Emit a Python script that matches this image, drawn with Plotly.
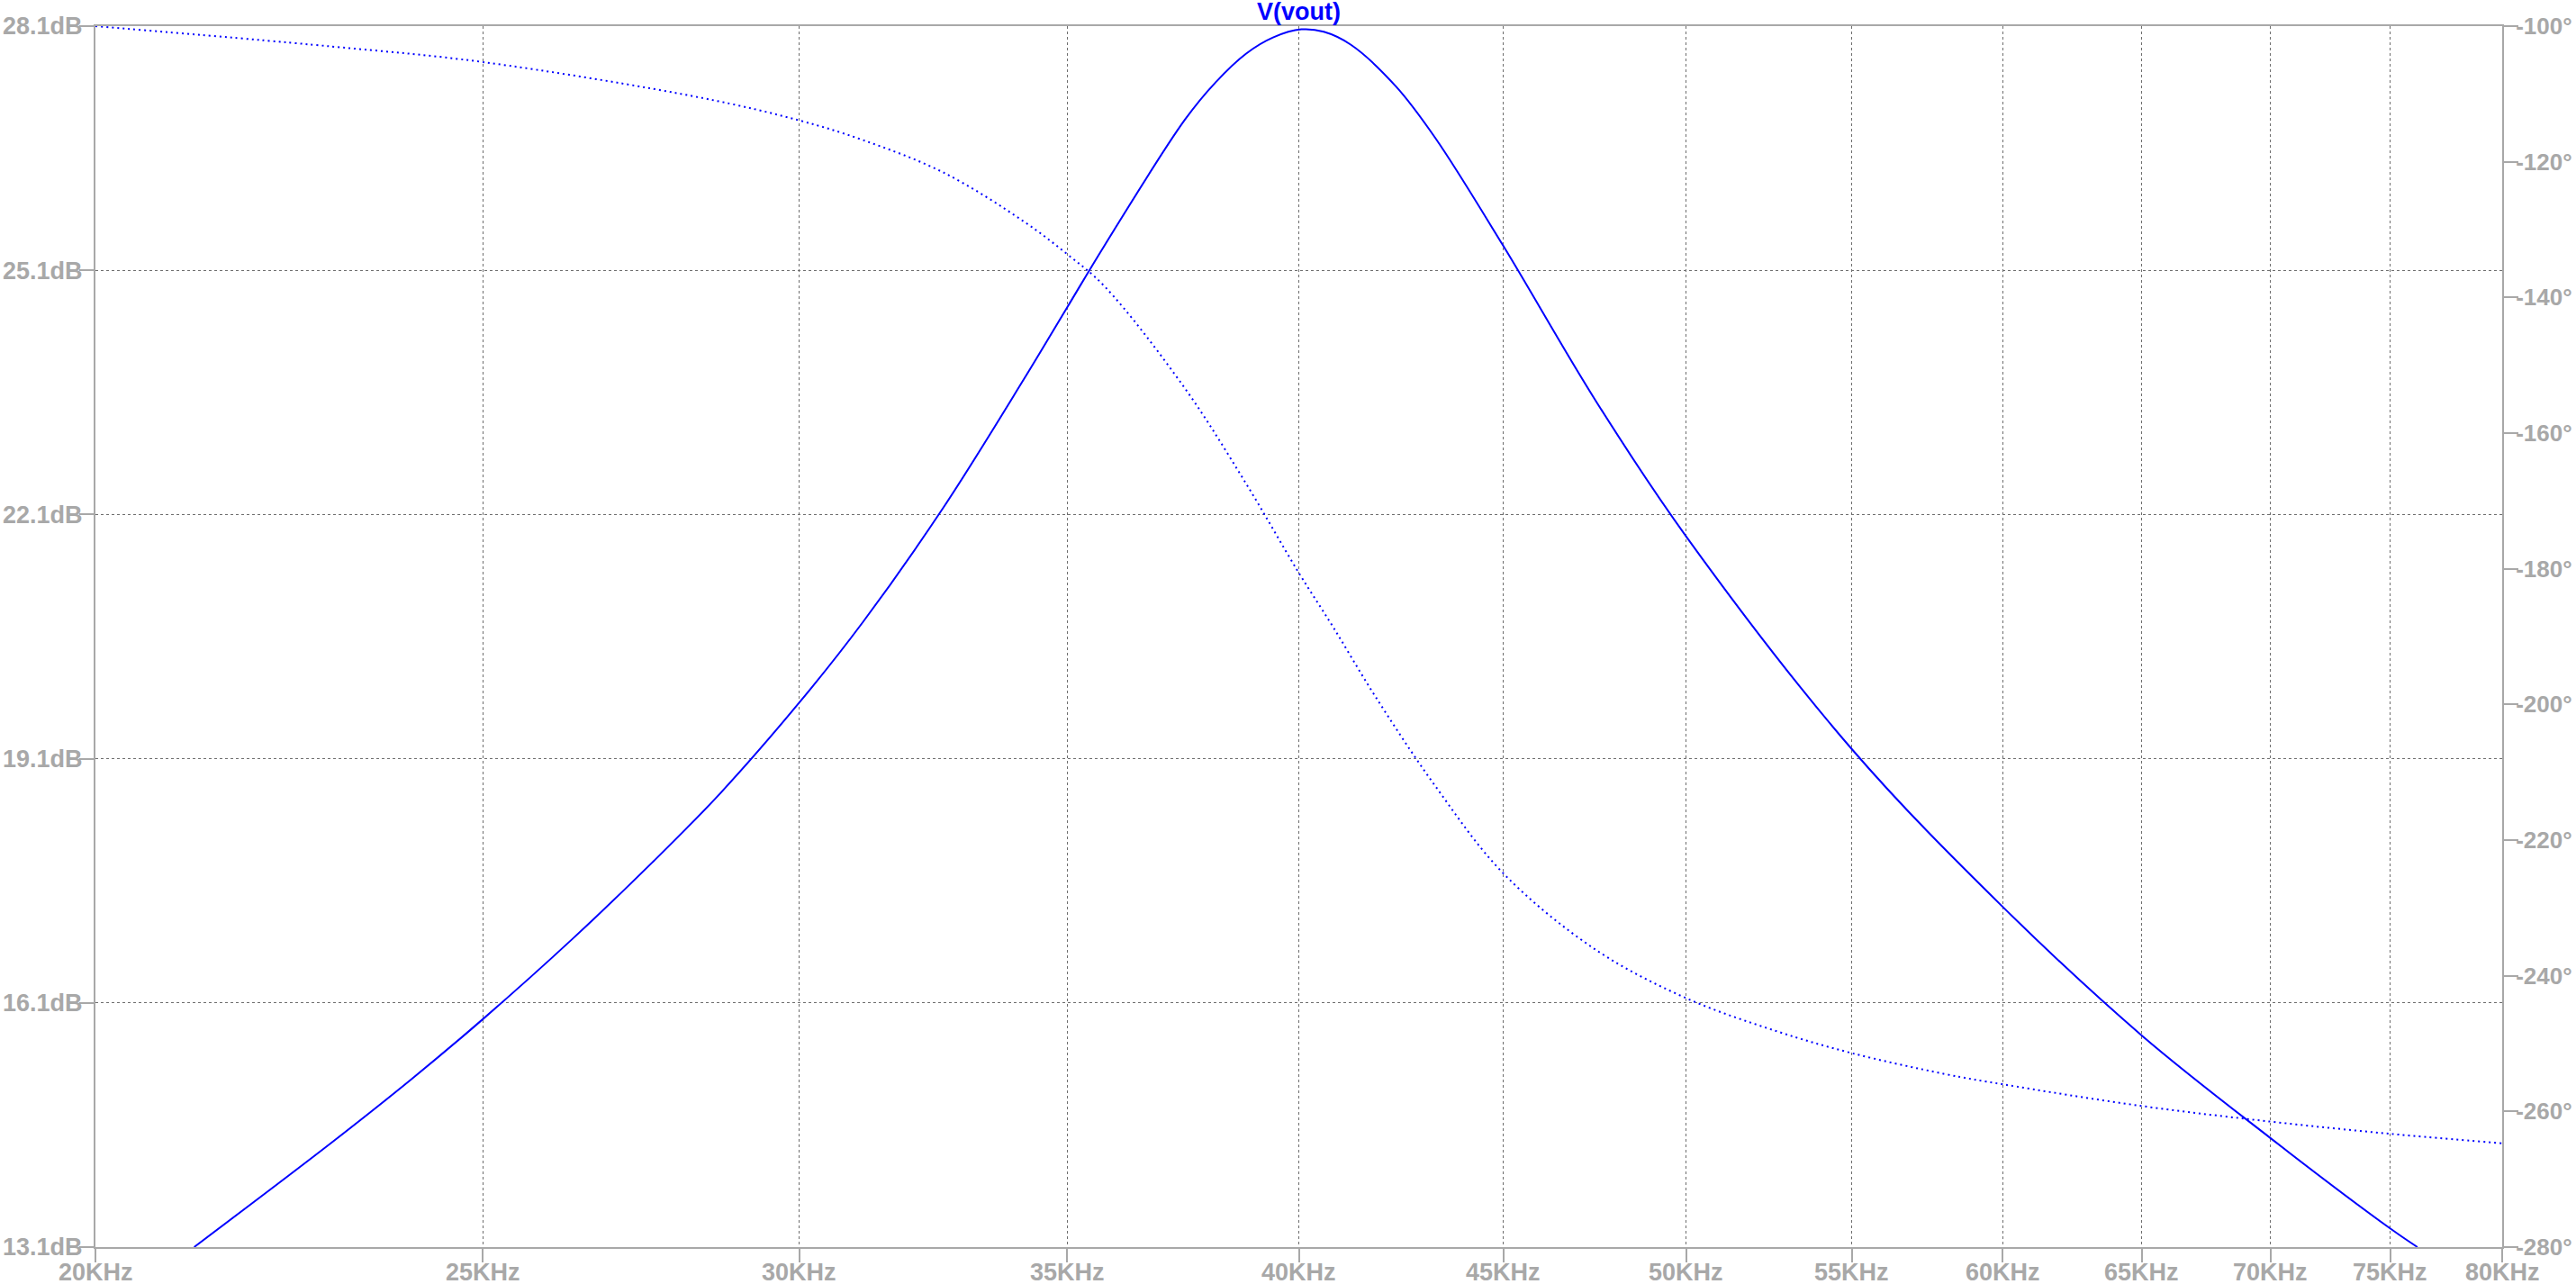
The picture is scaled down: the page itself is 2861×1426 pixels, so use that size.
import math
import plotly.graph_objects as go

# ---- data (frequency in kHz) ----
mag_freq_khz = [21.17, 22.91, 23.99, 25.0, 26.33, 27.57, 28.67, 30.0, 31.12, 32.60,
                34.14, 35.0, 35.77, 37.46, 38.13, 38.80, 39.41, 40.06, 40.58, 41.22,
                42.30, 43.28, 45.0, 47.47, 50.0, 55.0, 60.0, 65.0,
                70.0, 75.0, 76.19]
mag_db = [13.10, 14.38, 15.16, 15.90, 16.89, 17.83, 18.68, 19.79, 20.78, 22.19,
          23.76, 24.64, 25.41, 26.95, 27.41, 27.76, 27.96, 28.06, 28.03, 27.87,
          27.36, 26.72, 25.40, 23.49, 21.83, 19.22, 17.28, 15.70,
          14.44, 13.33, 13.10]

phase_freq_khz = [20.0, 22.91, 25.0, 28.37, 30.0, 31.12, 32.60, 34.14, 35.0, 35.77,
                  37.46, 38.79, 40.0, 40.79, 41.80, 43.28, 45.0, 47.47, 50.0,
                  52.69, 55.0, 58.05, 60.0, 65.0, 70.0, 75.0, 80.0]
phase_deg = [-100.0, -103.0, -105.3, -110.6, -113.9, -116.8, -121.6, -128.8, -133.6, -138.4,
             -153.4, -167.3, -180.6, -188.5, -198.8, -212.1, -224.9, -236.2, -243.3,
             -248.2, -251.4, -254.5, -256.0, -259.2, -261.5, -263.3, -264.7]

x_ticks_khz = [20, 25, 30, 35, 40, 45, 50, 55, 60, 65, 70, 75, 80]
y_ticks_db = [13.1, 16.1, 19.1, 22.1, 25.1, 28.1]
y2_ticks_deg = [-280, -260, -240, -220, -200, -180, -160, -140, -120, -100]
trace_name = "V(vout)"

# ---- styling ----
AX = "#a8a8a8"
GRID = "#6e6e6e"
BLUE = "#0000ff"
FONT = "Liberation Sans, Arial, sans-serif"
FS = 27

fig = go.Figure()
fig.add_trace(go.Scatter(
    x=[f * 1000 for f in mag_freq_khz], y=mag_db, mode="lines", yaxis="y",
    line=dict(color=BLUE, width=2, shape="spline", smoothing=1),
    name=trace_name, hoverinfo="skip"))
fig.add_trace(go.Scatter(
    x=[f * 1000 for f in phase_freq_khz], y=phase_deg, mode="lines", yaxis="y2",
    line=dict(color=BLUE, width=2, dash="2px,4px", shape="spline", smoothing=1),
    name=trace_name + " phase", hoverinfo="skip"))

tickfont = dict(family=FONT, size=FS, color=AX, weight="bold")

# x tick labels placed on the log axis (annotation x uses log10 units on log axes)
x_label_annotations = [
    dict(text=f"<b>{v}KHz</b>", x=math.log10(v * 1000), xref="x", y=0, yref="paper",
         xanchor="center", yanchor="top", yshift=-12, showarrow=False, borderpad=0,
         font=dict(family=FONT, size=FS, color=AX))
    for v in x_ticks_khz
]

fig.update_layout(
    width=2861, height=1426,
    margin=dict(l=106, r=82, t=29, b=41, pad=0, autoexpand=False),
    paper_bgcolor="white", plot_bgcolor="white",
    showlegend=False,
    xaxis=dict(
        type="log", automargin=False,
        range=[math.log10(x_ticks_khz[0] * 1000), math.log10(x_ticks_khz[-1] * 1000)],
        tickvals=[v * 1000 for v in x_ticks_khz],
        ticktext=[f"{v}KHz" for v in x_ticks_khz],
        showticklabels=False,
        ticks="outside", ticklen=15, tickwidth=2, tickcolor=AX,
        showline=True, linecolor=AX, linewidth=2, mirror=True,
        showgrid=True, gridcolor=GRID, gridwidth=1, griddash="3px,3px",
        zeroline=False, fixedrange=True,
    ),
    yaxis=dict(
        automargin=False,
        range=[y_ticks_db[0], y_ticks_db[-1]],
        tickvals=y_ticks_db,
        ticktext=[f"{v:.1f}dB" for v in y_ticks_db],
        ticks="outside", ticklen=16, tickwidth=2, tickcolor=AX,
        ticklabelstandoff=-9,
        showline=True, linecolor=AX, linewidth=2,
        showgrid=True, gridcolor=GRID, gridwidth=1, griddash="3px,3px",
        zeroline=False, tickfont=tickfont, fixedrange=True,
    ),
    yaxis2=dict(
        automargin=False,
        overlaying="y", side="right",
        range=[y2_ticks_deg[0], y2_ticks_deg[-1]],
        tickvals=y2_ticks_deg,
        ticktext=[f"{v}°" for v in y2_ticks_deg],
        ticks="outside", ticklen=16, tickwidth=2, tickcolor=AX,
        ticklabelstandoff=-8,
        showline=True, linecolor=AX, linewidth=2,
        showgrid=False, zeroline=False,
        tickfont=dict(family=FONT, size=26, color=AX, weight="bold"), fixedrange=True,
    ),
    annotations=[dict(
        text=f"<b>{trace_name}</b>", x=0.5, xref="paper", y=1, yref="paper",
        yanchor="bottom", xanchor="center", showarrow=False, borderpad=0,
        font=dict(family=FONT, size=FS, color=BLUE), yshift=0)] + x_label_annotations,
)

fig.write_html(
    "out.html",
    config={"displayModeBar": False},
    post_script="document.body.style.margin='0';document.body.style.overflow='hidden';",
)
